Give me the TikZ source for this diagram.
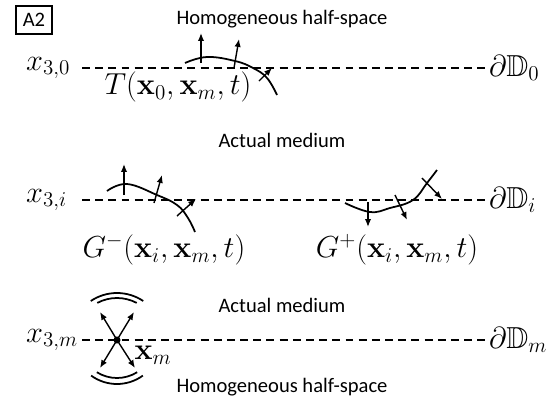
\documentclass[tikz,border=0pt]{standalone}
\usepackage{amsmath,amssymb}
\usepackage[no-math]{fontspec}
\newfontfamily\calibri{Carlito}
\usepackage{tikz}
\usetikzlibrary{arrows.meta}

\begin{document}
\begin{tikzpicture}[
  x=0.02cm, y=0.02cm,
  boundary/.style={line width=1pt, dash pattern=on 4.5pt off 3pt},
  wave/.style={line width=1pt},
  ray/.style={-{Latex[length=4.5pt,width=3.6pt]}, line width=0.8pt},
  txt/.style={font=\calibri\fontsize{11.7}{14}\selectfont, inner sep=0pt},
  mth/.style={font=\LARGE, inner sep=1pt},
  tag/.style={txt, draw, line width=0.8pt, minimum width=0.72cm, minimum height=0.56cm}
]
\useasboundingbox (0,0) rectangle (555,407);

% Media labels
\node[tag] (tag) at (34,387) {A2};
\node[txt] (homtop) at (282,388) {Homogeneous half-space};
\node[txt] (acttop) at (282,267) {Actual medium};
\node[txt] (actbot) at (282,102) {Actual medium};
\node[txt] (hombot) at (282,20) {Homogeneous half-space};

% Depth levels
\node[mth, anchor=west] (x30) at (24,339) {$x_{3,0}$};
\node[mth, anchor=west] (x3i) at (24,207) {$x_{3,i}$};
\node[mth, anchor=west] (x3m) at (24,67) {$x_{3,m}$};
\node[mth, anchor=west] (d0) at (487,339) {$\partial\mathbb{D}_0$};
\node[mth, anchor=west] (di) at (487,207) {$\partial\mathbb{D}_i$};
\node[mth, anchor=west] (dm) at (487,67) {$\partial\mathbb{D}_m$};
\coordinate (s0) at (82,339);
\coordinate (si) at (82,207);
\coordinate (sm) at (82,67);

\draw[boundary] (s0) -- (d0.west);
\draw[boundary] (si) -- (di.west);
\draw[boundary] (sm) -- (dm.west);

% Transmitted field at the top
\draw[wave] plot[smooth, tension=0.7] coordinates {(185,344) (207,350) (235,346) (253,339) (267,329) (277,312)};
\draw[ray] (201,344) -- (201,374);
\draw[ray] (234,339) -- (239,368);
\draw[ray] (259,326) -- (272,339);
\node[mth] (tlab) at (178,320) {$T(\mathbf{x}_0,\mathbf{x}_m,t)$};

% Upgoing and downgoing fields at level i
\draw[wave] plot[smooth, tension=0.7] coordinates {(107,216) (127,223) (157,212) (177,202) (188,189) (195,175)};
\draw[ray] (124,212) -- (124,243);
\draw[ray] (154,204) -- (162,232);
\draw[ray] (177,191) -- (196,208);
\node[mth] (gmin) at (164,157) {$G^{-}(\mathbf{x}_i,\mathbf{x}_m,t)$};

\draw[wave] plot[smooth, tension=0.7] coordinates {(345,204) (370,195) (390,199) (413,207) (427,224) (437,237)};
\draw[ray] (368,205) -- (368,180);
\draw[ray] (395,212) -- (407,187);
\draw[ray] (422,229) -- (442,208);
\node[mth] (gplus) at (397,157) {$G^{+}(\mathbf{x}_i,\mathbf{x}_m,t)$};

% Source at level m
\coordinate (src) at (117,67);
\fill (src) circle (2pt);
\draw[ray] (src) -- ++(-17,28);
\draw[ray] (src) -- ++(17,28);
\draw[ray] (src) -- ++(-17,-28);
\draw[ray] (src) -- ++(18,-28);
\draw[wave] (src) ++(62:42) arc[start angle=62, end angle=118, radius=42];
\draw[wave] (src) ++(56:47) arc[start angle=56, end angle=124, radius=47];
\draw[wave] (src) ++(238:38) arc[start angle=238, end angle=302, radius=38];
\draw[wave] (src) ++(234:44) arc[start angle=234, end angle=306, radius=44];
\node[mth] (xm) at (153,52) {$\mathbf{x}_m$};
\end{tikzpicture}
\end{document}
